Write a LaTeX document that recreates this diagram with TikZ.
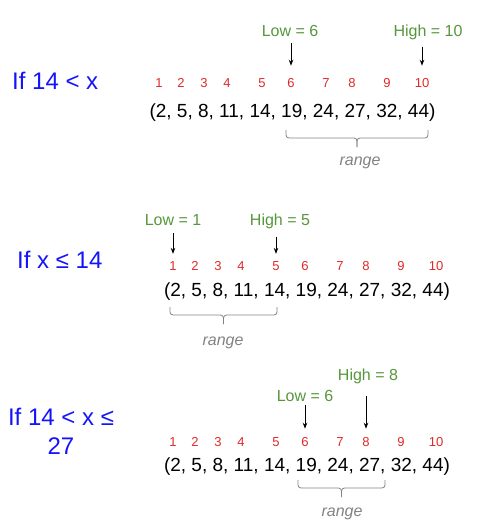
\documentclass[tikz,border=0pt]{standalone}
\usepackage{fontspec}
\setmainfont{Liberation Sans}
\usetikzlibrary{arrows.meta, calc}
\definecolor{condblue}{RGB}{20,20,250}
\definecolor{ptrgreen}{RGB}{86,150,60}
\definecolor{idxred}{RGB}{226,40,40}
\definecolor{rangegray}{RGB}{130,130,130}
\tikzset{
  cond/.style={anchor=base west, inner sep=0pt, text=condblue, font=\fontsize{24}{29}\selectfont},
  arr/.style={anchor=base, inner sep=0pt, font=\fontsize{19}{22}\selectfont},
  idx/.style={anchor=base, inner sep=0pt, text=idxred, font=\fontsize{13}{15}\selectfont},
  ptr/.style={anchor=base, inner sep=0pt, text=ptrgreen, font=\fontsize{16}{19}\selectfont},
  arrow/.style={line width=0.9pt, -{Stealth[length=6pt,width=4.5pt]}},
  bracket/.style={draw=rangegray, line width=0.8pt, rounded corners=3pt},
  rng/.style={anchor=base, inner sep=0pt, text=rangegray, font=\fontsize{16}{18}\selectfont\itshape}
}

\begin{document}
\begin{tikzpicture}[x=1pt, y=-1pt]
    \useasboundingbox (0,0) rectangle (485,527);

    % first case
    \node (cond1) [cond] at (12,89) {If 14 < x};
    \foreach \x [count=\i] in {159,181,204,227,262,291,326,352,387,422}
        \node (a\i) [idx] at (\x,88) {\i};
    \node (arr1) [arr] at (292.5,117) {(2, 5, 8, 11, 14, 19, 24, 27, 32, 44)};
    \node (low1) [ptr] at (290,37) {Low = 6};
    \node (high1) [ptr] at (428,37) {High = 10};
    \draw [arrow, shorten <=6pt, shorten >=13pt] (low1.south -| a6.north) -- (a6.north);
    \draw [arrow, shorten <=6pt, shorten >=13pt] (high1.south -| a10.north) -- (a10.north);
    \coordinate (r1s) at (286,130);
    \coordinate (r1e) at (428,130);
    \coordinate (r1t) at ($(r1s)!.5!(r1e)+(0,17)$);
    \draw [bracket] (r1s) -- ++(0,8) -| (r1t);
    \draw [bracket] (r1e) -- ++(0,8) -| (r1t);
    \node (rng1) [rng] at (360,165) {range};

    % second case
    \node (cond2) [cond] at (17,268) {If x ≤ 14};
    \foreach \x [count=\i] in {173,195,218,241,276,305,340,366,401,436}
        \node (b\i) [idx] at (\x,270) {\i};
    \node (arr2) [arr] at (307,296) {(2, 5, 8, 11, 14, 19, 24, 27, 32, 44)};
    \node (low2) [ptr] at (173,225) {Low = 1};
    \node (high2) [ptr] at (280,225) {High = 5};
    \draw [arrow, shorten <=8pt, shorten >=7pt] (low2.south -| b1.north) -- (b1.north);
    \draw [arrow, shorten <=8pt, shorten >=7pt] (high2.south -| b5.north) -- (b5.north);
    \coordinate (r2s) at (170,307);
    \coordinate (r2e) at (277,307);
    \coordinate (r2t) at ($(r2s)!.5!(r2e)+(0,17)$);
    \draw [bracket] (r2s) -- ++(0,8) -| (r2t);
    \draw [bracket] (r2e) -- ++(0,8) -| (r2t);
    \node (rng2) [rng] at (223,345) {range};

    % third case
    \node (cond3) [cond, anchor=center, align=center] at (61,431) {If 14 < x ≤\\27};
    \foreach \x [count=\i] in {173,195,218,241,276,305,340,366,401,436}
        \node (c\i) [idx] at (\x,446) {\i};
    \node (arr3) [arr] at (307,471) {(2, 5, 8, 11, 14, 19, 24, 27, 32, 44)};
    \node (low3) [ptr] at (305,401) {Low = 6};
    \node (high3) [ptr] at (368,380) {High = 8};
    \draw [arrow, shorten <=4pt, shorten >=8pt] (low3.south -| c6.north) -- (c6.north);
    \draw [arrow, shorten <=12pt, shorten >=8pt] (high3.south -| c8.north) -- (c8.north);
    \coordinate (r3s) at (298,480);
    \coordinate (r3e) at (385,480);
    \coordinate (r3t) at ($(r3s)!.5!(r3e)+(0,17)$);
    \draw [bracket] (r3s) -- ++(0,8) -| (r3t);
    \draw [bracket] (r3e) -- ++(0,8) -| (r3t);
    \node (rng3) [rng] at (342,516) {range};
\end{tikzpicture}
\end{document}
